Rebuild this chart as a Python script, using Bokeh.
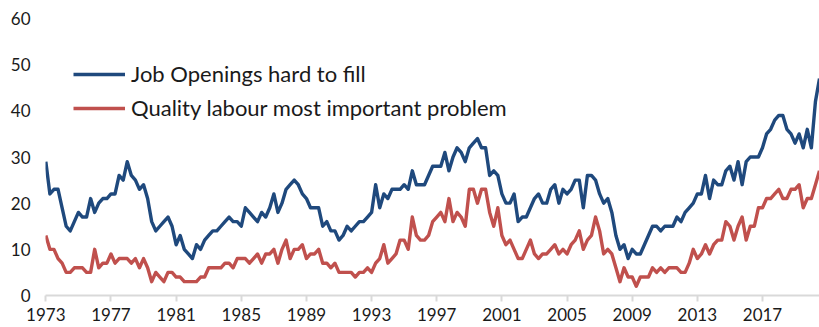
from bokeh.plotting import figure
from bokeh.models import FixedTicker, Legend, LegendItem, Range1d
from bokeh.embed import file_html
from bokeh.resources import INLINE

# Quarterly survey readings, 1973Q1 onwards (percent of firms)
start_year = 1973
hard_to_fill = [
    29, 22, 23, 23,  19, 15, 14, 16,  18, 17, 17, 21,  18, 20, 21, 21,   # 1973-76
    22, 22, 26, 25,  29, 26, 25, 23,  24, 21, 16, 14,  15, 16, 17, 15,   # 1977-80
    11, 13, 10, 9,   8, 11, 10, 12,   13, 14, 14, 15,  16, 17, 16, 16,   # 1981-84
    15, 19, 18, 17,  16, 18, 17, 19,  22, 18, 20, 23,  24, 25, 24, 22,   # 1985-88
    21, 19, 19, 19,  15, 16, 14, 14,  12, 13, 15, 14,  15, 16, 16, 17,   # 1989-92
    18, 24, 19, 22,  21, 23, 23, 23,  24, 23, 27, 24,  24, 24, 26, 28,   # 1993-96
    28, 28, 31, 27,  30, 32, 31, 29,  32, 33, 34, 32,  32, 26, 27, 26,   # 1997-2000
    22, 20, 20, 22,  16, 17, 17, 19,  21, 22, 20, 20,  23, 24, 20, 23,   # 2001-04
    22, 23, 25, 25,  19, 26, 26, 25,  22, 20, 21, 18,  13, 10, 11, 8,    # 2005-08
    10, 9, 9, 11,    13, 15, 15, 14,  15, 15, 15, 17,  16, 18, 19, 20,   # 2009-12
    22, 22, 26, 21,  25, 24, 24, 27,  28, 25, 29, 24,  29, 30, 30, 30,   # 2013-16
    32, 35, 36, 38,  39, 39, 36, 35,  33, 35, 32, 36,  32, 42, 47,       # 2017-20
]
quality_labour = [
    13, 10, 10, 8,   7, 5, 5, 6,      6, 6, 5, 5,      10, 6, 7, 7,      # 1973-76
    9, 7, 8, 8,      8, 7, 8, 6,      8, 6, 3, 5,      4, 3, 5, 5,       # 1977-80
    4, 4, 3, 3,      3, 3, 4, 4,      6, 6, 6, 6,      7, 7, 6, 8,       # 1981-84
    8, 8, 7, 8,      9, 7, 9, 9,      10, 7, 10, 12,   8, 10, 10, 11,    # 1985-88
    8, 9, 9, 10,     7, 7, 6, 7,      5, 5, 5, 5,      4, 5, 5, 6,       # 1989-92
    5, 7, 8, 11,     7, 8, 9, 12,     12, 10, 17, 13,  12, 12, 13, 16,   # 1993-96
    17, 18, 16, 21,  16, 18, 17, 15,  23, 23, 20, 23,  23, 18, 15, 19,   # 1997-2000
    13, 11, 12, 10,  8, 8, 10, 12,    9, 8, 9, 9,      10, 11, 9, 10,    # 2001-04
    9, 11, 12, 14,   10, 12, 13, 17,  14, 9, 10, 9,    6, 3, 6, 4,       # 2005-08
    4, 2, 4, 4,      4, 6, 5, 6,      5, 6, 6, 6,      5, 5, 7, 10,      # 2009-12
    8, 9, 11, 9,     11, 12, 12, 16,  15, 12, 15, 17,  12, 15, 15, 19,   # 2013-16
    19, 21, 21, 22,  23, 21, 21, 23,  23, 24, 19, 21,  21, 24, 27,       # 2017-20
]
series_names = ["Job Openings hard to fill", "Quality labour most important problem"]
tick_years = [1973, 1977, 1981, 1985, 1989, 1993, 1997, 2001, 2005, 2009, 2013, 2017]
y_ticks = [0, 10, 20, 30, 40, 50, 60]

quarters_hard = [start_year + i / 4 for i in range(len(hard_to_fill))]
quarters_quality = [start_year + i / 4 for i in range(len(quality_labour))]

FONT = "Lato"
TEXT = "#1a1a1a"
BLUE = "#1F497D"
RED = "#C0504D"

p = figure(width=819, height=327, output_backend="svg", toolbar_location=None,
           x_range=Range1d(1972.98, 2020.5), y_range=Range1d(0, 60),
           min_border_left=45, min_border_right=0, min_border_top=18, min_border_bottom=32)
p.outline_line_color = None
p.background_fill_color = "white"
p.border_fill_color = "white"
p.grid.visible = False

r1 = p.line(quarters_hard, hard_to_fill, line_color=BLUE, line_width=3.4, line_join="round")
r2 = p.line(quarters_quality, quality_labour, line_color=RED, line_width=3.4, line_join="round")

xa = p.xaxis[0]
xa.ticker = FixedTicker(ticks=tick_years)
xa.axis_line_color = "#D9D9D9"
xa.axis_line_width = 2
xa.major_tick_line_color = "#D9D9D9"
xa.major_tick_line_width = 2
xa.major_tick_in = 0
xa.major_tick_out = 6
xa.minor_tick_line_color = None
xa.major_label_standoff = 6
xa.major_label_text_font = FONT
xa.major_label_text_font_size = "17px"
xa.major_label_text_color = TEXT

ya = p.yaxis[0]
ya.ticker = FixedTicker(ticks=y_ticks)
ya.axis_line_color = None
ya.major_tick_line_color = None
ya.minor_tick_line_color = None
ya.major_tick_in = 0
ya.major_tick_out = 0
ya.major_label_standoff = 15
ya.major_label_text_font = FONT
ya.major_label_text_font_size = "17px"
ya.major_label_text_color = TEXT

legend = Legend(items=[LegendItem(label=series_names[0], renderers=[r1]),
                       LegendItem(label=series_names[1], renderers=[r2])],
                location=(28, 174), orientation="vertical",
                label_text_font=FONT, label_text_font_size="22px", label_text_color=TEXT,
                glyph_width=52, glyph_height=22, label_height=22, label_standoff=6,
                spacing=7, padding=0, margin=0,
                background_fill_alpha=0, border_line_color=None)
p.add_layout(legend, "center")

open("out.html", "w").write(file_html(p, INLINE))
